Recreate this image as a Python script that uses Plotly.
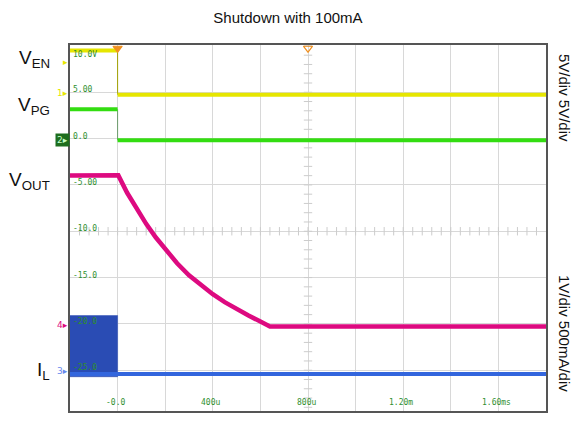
import plotly.graph_objects as go

# ---- data (scope units, time in microseconds) ----
ven_t_before = [-200, 0]
ven_v_before = [9.5, 9.5]
ven_t_after = [0, 1800]
ven_v_after = [4.74, 4.74]

vpg_t_before = [-200, 0]
vpg_v_before = [3.16, 3.16]
vpg_t_after = [0, 1800]
vpg_v_after = [-0.18, -0.18]

vout_t = [-200, 0, 3, 40, 80, 120, 160, 200, 250, 300, 350, 400, 450, 500, 550, 600, 640, 1800]
vout_v = [-3.99, -3.99, -3.97, -5.85, -7.6, -9.2, -10.65, -11.95, -13.45, -14.75, -15.85,
          -16.8, -17.65, -18.4, -19.1, -19.75, -20.27, -20.27]

il_burst_t = [-200, 0]
il_burst_hi = [-19.1, -19.1]
il_burst_lo = [-25.7, -25.7]
il_t = [-200, 1800]
il_v = [-25.4, -25.4]

trigger_t = [0, 800]

x_tick_vals = [0, 400, 800, 1200, 1600]
x_tick_text = ["-0.0", "400u", "800u", "1.20m", "1.60ms"]
y_tick_vals = [10, 5, 0, -5, -10, -15, -20, -25]
y_tick_text = ["10.0V", "5.00", "0.0", "-5.00", "-10.0", "-15.0", "-20.0", "-25.0"]

X_RANGE = [-200, 1800]
Y_RANGE = [-29.4, 10.1]

YEL = "#e6e600"
GRN = "#33dd11"
MAG = "#dd0a80"
BLU = "#3366dd"
BLK = "#2a4cb4"
TXTGRN = "#2f8f2f"

fig = go.Figure()

# center-axis minor ticks
cx = (X_RANGE[0] + X_RANGE[1]) / 2
cy = -10
vt = [v for v in range(-29, 11)]
fig.add_trace(go.Scatter(x=[cx] * len(vt), y=vt, mode="markers",
                         marker=dict(symbol="line-ew", size=6, line=dict(color="#cccccc", width=1)),
                         hoverinfo="skip", showlegend=False))
ht = list(range(-160, 1800, 40))
fig.add_trace(go.Scatter(x=ht, y=[cy] * len(ht), mode="markers",
                         marker=dict(symbol="line-ns", size=6, line=dict(color="#cccccc", width=1)),
                         hoverinfo="skip", showlegend=False))

# IL burst block
fig.add_trace(go.Scatter(
    x=il_burst_t + il_burst_t[::-1],
    y=il_burst_hi + il_burst_lo[::-1],
    fill="toself", fillcolor=BLK, mode="lines", line=dict(width=0.5, color=BLK),
    hoverinfo="skip", showlegend=False))
fig.add_trace(go.Scatter(x=il_t, y=il_v, mode="lines", line=dict(color=BLU, width=4),
                         showlegend=False))

# VOUT
fig.add_trace(go.Scatter(x=vout_t, y=vout_v, mode="lines", line=dict(color=MAG, width=4.5),
                         showlegend=False))

# VPG
fig.add_trace(go.Scatter(x=[vpg_t_before[-1], vpg_t_after[0]], y=[vpg_v_before[-1], vpg_v_after[0]],
                         mode="lines", line=dict(color="#6a9a6a", width=1), showlegend=False))
fig.add_trace(go.Scatter(x=vpg_t_before, y=vpg_v_before, mode="lines", line=dict(color=GRN, width=4),
                         showlegend=False))
fig.add_trace(go.Scatter(x=vpg_t_after, y=vpg_v_after, mode="lines", line=dict(color=GRN, width=4),
                         showlegend=False))

# VEN
fig.add_trace(go.Scatter(x=[ven_t_before[-1], ven_t_after[0]], y=[ven_v_before[-1], ven_v_after[0]],
                         mode="lines", line=dict(color="#a0a000", width=1), showlegend=False))
fig.add_trace(go.Scatter(x=ven_t_before, y=ven_v_before, mode="lines", line=dict(color=YEL, width=4),
                         showlegend=False))
fig.add_trace(go.Scatter(x=ven_t_after, y=ven_v_after, mode="lines", line=dict(color=YEL, width=4),
                         showlegend=False))

# trigger markers
fig.add_trace(go.Scatter(x=trigger_t, y=[9.75, 9.75], mode="markers", cliponaxis=False,
                         marker=dict(symbol=["triangle-down", "triangle-down-open"], size=8,
                                     color="#f09020", line=dict(color="#f09020", width=1.2)),
                         showlegend=False))

ann = []
for v, t in zip(x_tick_vals, x_tick_text):
    ann.append(dict(x=v, y=-28.45, xref="x", yref="y", text=t, showarrow=False,
                    xanchor="center", yanchor="middle", xshift=-2,
                    font=dict(family="DejaVu Sans Mono", size=8, color=TXTGRN)))
for v, t in zip(y_tick_vals, y_tick_text):
    ann.append(dict(x=-200, y=v, xref="x", yref="y", text=t, showarrow=False,
                    xanchor="left", yanchor="top" if v == 10 else "bottom", xshift=1,
                    yshift=-2 if v == 10 else -4,
                    font=dict(family="DejaVu Sans Mono", size=8, color=TXTGRN)))


def py(p):
    return (411 - p) / 366.0


def px(p):
    return (p - 70) / 476.0


left_labels = [("V<sub>EN</sub>", 59), ("V<sub>PG</sub>", 106), ("V<sub>OUT</sub>", 181), ("I<sub>L</sub>", 371)]
for t, yy in left_labels:
    ann.append(dict(x=px(52), y=py(yy), xref="paper", yref="paper", text=t, showarrow=False,
                    xanchor="right", yanchor="middle",
                    font=dict(family="Liberation Sans, Arial", size=19, color="#111111")))

markers = [("▸", 62, YEL, None), ("1▸", 93, YEL, None), ("2▸", 140, "#c8ffc8", "#1e6e1e"),
           ("4▸", 325, MAG, None), ("3▸", 371, "#6688ee", None)]
for t, yy, c, bg in markers:
    a = dict(x=px(70), y=py(yy), xref="paper", yref="paper", text=t, showarrow=False,
             xanchor="right", yanchor="middle",
             font=dict(family="DejaVu Sans", size=9, color=c))
    if bg:
        a["bgcolor"] = bg
    ann.append(a)

ann.append(dict(x=px(565), y=py(98), xref="paper", yref="paper", text="5V/div 5V/div",
                showarrow=False, textangle=90, xanchor="center", yanchor="middle",
                font=dict(family="Liberation Sans, Arial", size=15, color="#111111")))
ann.append(dict(x=px(565), y=py(333), xref="paper", yref="paper", text="1V/div 500mA/div",
                showarrow=False, textangle=90, xanchor="center", yanchor="middle",
                font=dict(family="Liberation Sans, Arial", size=15, color="#111111")))

fig.update_layout(
    width=576, height=422,
    margin=dict(l=70, r=30, t=45, b=11),
    paper_bgcolor="white", plot_bgcolor="white",
    title=dict(text="Shutdown with 100mA", x=px(308), xanchor="center", y=1 - 18 / 422, yanchor="middle",
               font=dict(family="Liberation Sans, Arial", size=15, color="#111111")),
    annotations=ann,
    showlegend=False,
)
fig.update_xaxes(range=X_RANGE, dtick=200, tick0=0, showgrid=True, gridcolor="#d8d8d8", gridwidth=1,
                 showticklabels=False, ticks="", zeroline=False,
                 showline=True, linecolor="#555555", linewidth=1.5, mirror=True)
fig.update_yaxes(range=Y_RANGE, dtick=5, tick0=0, showgrid=True, gridcolor="#d8d8d8", gridwidth=1,
                 showticklabels=False, ticks="", zeroline=False,
                 showline=True, linecolor="#555555", linewidth=1.5, mirror=True)

fig.write_html("out.html", config={"displayModeBar": False},
               post_script="document.body.style.margin='0px';document.body.style.overflow='hidden';")
